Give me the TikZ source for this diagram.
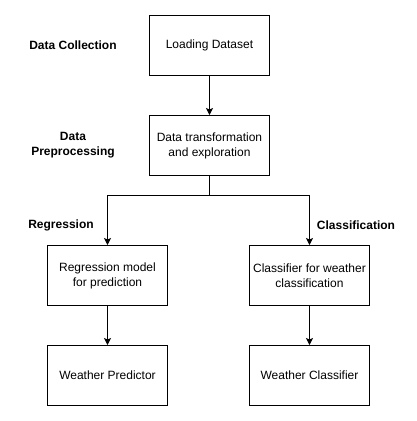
\documentclass[tikz,border=0pt]{standalone}
\usepackage{fontspec}
\setmainfont{Liberation Sans}
\usetikzlibrary{arrows.meta}
\begin{document}
\begin{tikzpicture}[x=1pt,y=-1pt,
  box/.style={draw=black, line width=1pt, minimum width=120pt, minimum height=60pt, align=center, font=\fontsize{12}{15}\selectfont, inner sep=0pt},
  lbl/.style={align=center, font=\fontsize{12}{15}\selectfont\bfseries},
  arr/.style={-{Stealth[length=7pt,width=7pt,inset=1.5pt]}, line width=1pt}]
\useasboundingbox (0,0) rectangle (417,421);
\node[box] (b1) at (209.5,45.5) {Loading Dataset};
\node[box] (b2) at (209.5,145.5) {Data transformation\\and exploration};
\node[box] (b3) at (107.5,275.5) {Regression model\\for prediction};
\node[box] (b4) at (309.5,275.5) {Classifier for weather\\classification};
\node[box] (b5) at (107.5,375.5) {Weather Predictor};
\node[box] (b6) at (309.5,375.5) {Weather Classifier};
\node[lbl] (l1) at (73,45.5) {Data Collection};
\node[lbl] (l2) at (73,145.5) {Data\\Preprocessing};
\node[lbl] (l3) at (61,225.5) {Regression};
\node[lbl] (l4) at (356,225.5) {Classification};
\draw[arr] (b1) -- (b2);
\draw[line width=1pt] (b2.south) -- (209.5,195.7) coordinate (j);
\draw[arr] (j) -| (b3.north);
\draw[arr] (j) -| (b4.north);
\draw[arr] (b3) -- (b5);
\draw[arr] (b4) -- (b6);
\end{tikzpicture}
\end{document}
